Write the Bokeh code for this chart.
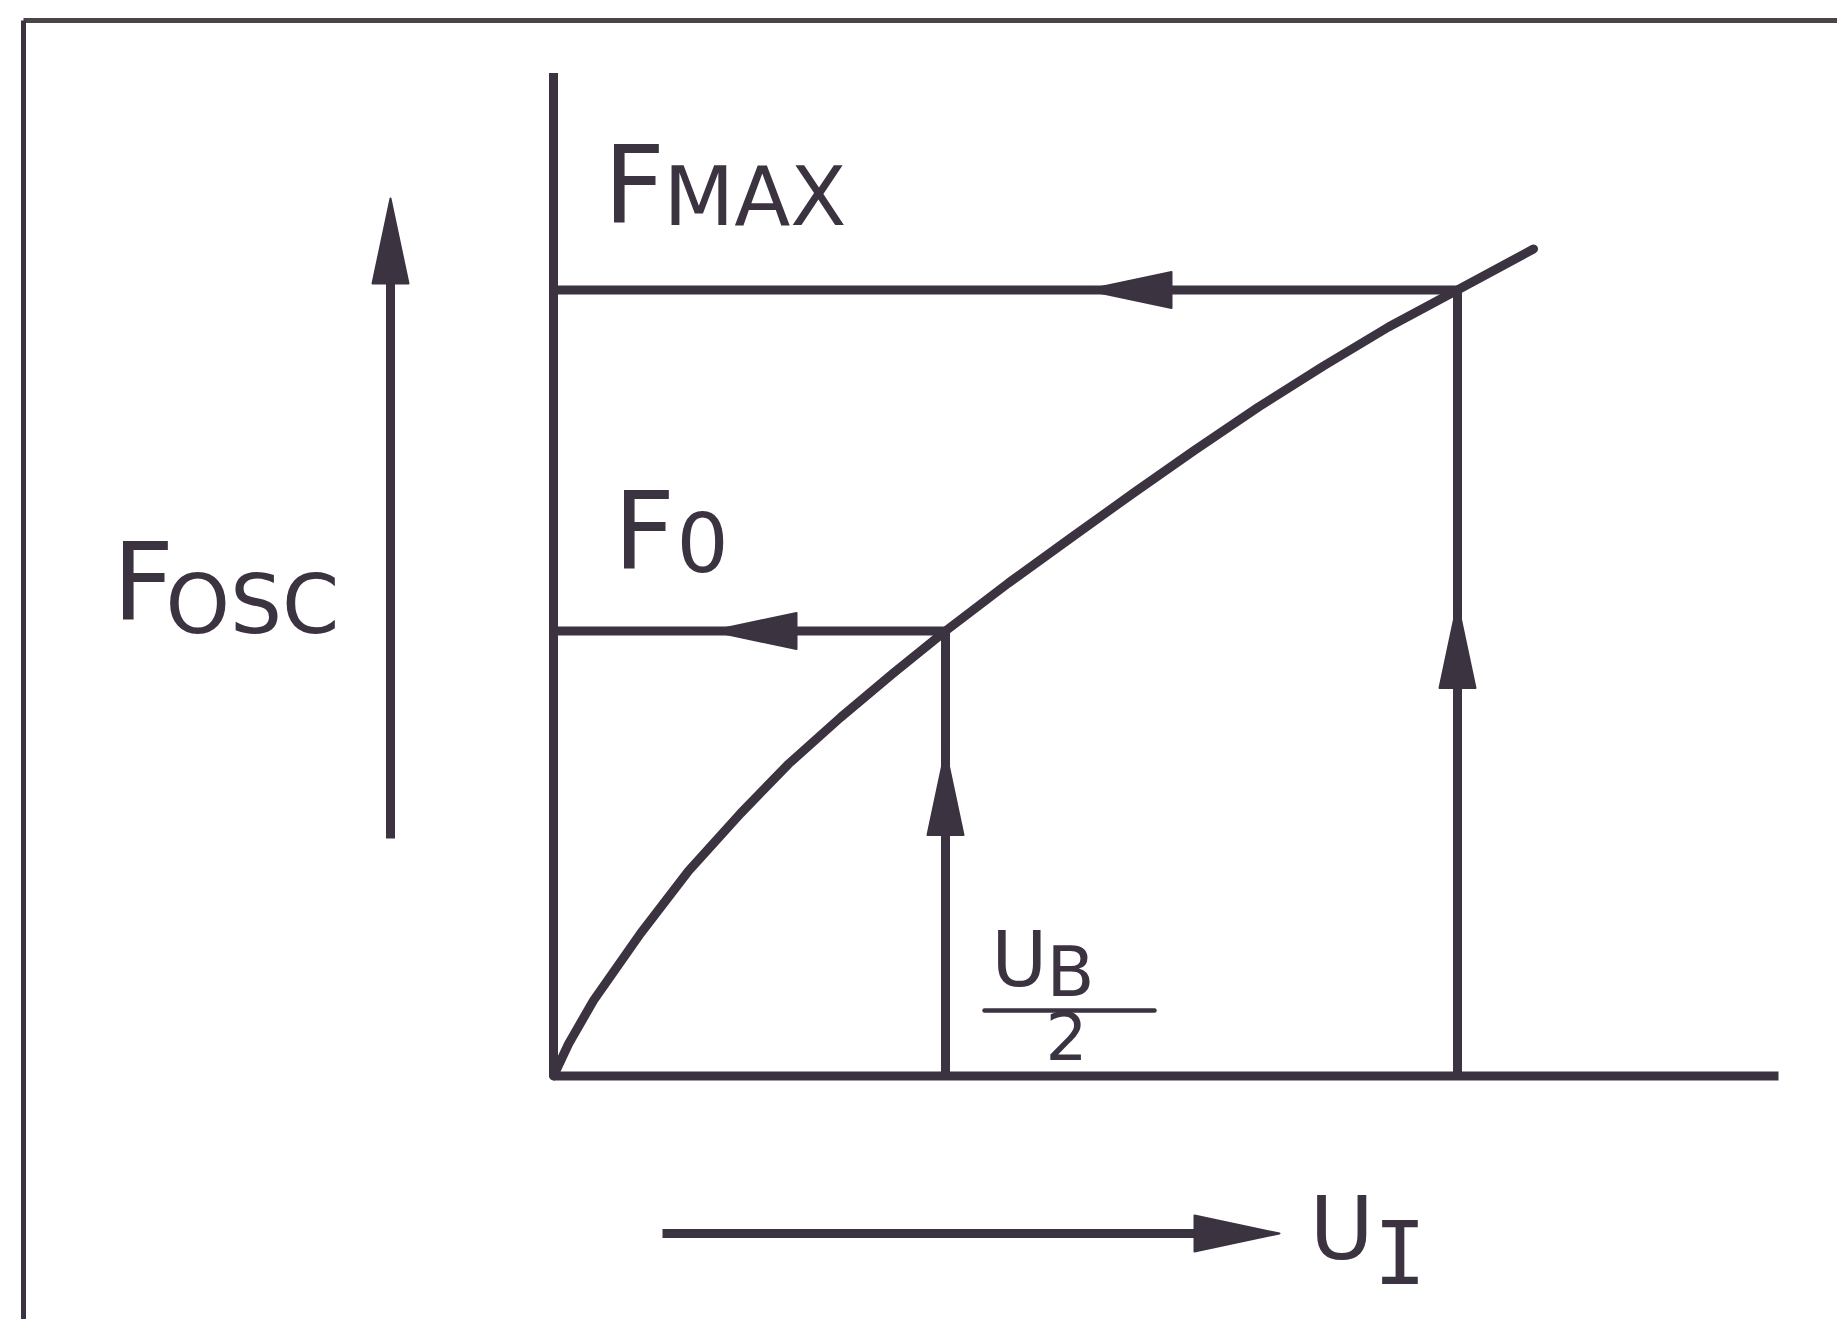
import numpy as np
from bokeh.plotting import figure
from bokeh.models import Range1d, ColumnDataSource
from bokeh.core.properties import value
from bokeh.embed import file_html
from bokeh.resources import INLINE

INK = "#3b3340"

# ---- data (diagram units: U along the horizontal, F along the vertical) ----
curve_u = [0.00, 0.15, 0.40, 0.87, 1.35, 1.87, 2.35, 2.87, 3.40, 3.92,
           4.55, 5.20, 5.80, 6.40, 7.05, 7.70, 8.35, 9.04, 9.80]
curve_f = [0.00, 0.32, 0.755, 1.425, 2.05, 2.625, 3.12, 3.585, 4.03, 4.45,
           4.93, 5.40, 5.83, 6.25, 6.69, 7.10, 7.49, 7.86, 8.27]

F_MAX = 7.86        # level of F_MAX
F_0 = 4.45          # level of F_0
U_HALF = 3.92       # U_B / 2
U_TOP = 9.04        # U at F_MAX
U_AXIS_END = 12.25
F_AXIS_END = 10.03

# arrow heads: tip positions and pointing directions
arrow_tip_u = [5.33, U_TOP, 1.58, U_HALF, -1.63, 7.26]
arrow_tip_f = [F_MAX, 4.73, F_0, 3.26, 8.775, -1.575]
arrow_dir = ["left", "up", "left", "up", "up", "right"]

# free-standing indicator arrows (shafts)
fosc_arrow_u = -1.63
fosc_arrow_f = [2.375, 8.3]
ui_arrow_f = -1.575
ui_arrow_u = [1.09, 6.8]

# labels
label_text = ["F", "MAX", "F", "0", "F", "OSC", "U", "B", "2", "U", "I"]
label_u = [0.50, 1.10, 0.60, 1.23, -4.41, -3.88, 4.38, 4.93, 4.92, 7.56, 8.20]
label_f = [8.91, 8.80, 5.45, 5.34, 4.94, 4.72, 1.17, 1.04, 0.41, -1.52, -1.77]
label_size = ["107px", "82px", "107px", "82px", "107px", "82px",
              "76px", "70px", "66px", "88px", "88px"]
label_font = ["DejaVu Sans"] * 10 + ["DejaVu Sans Mono"]

frac_u = [4.31, 6.01]
frac_f = 0.655

frame_left_u = -5.30
frame_top_f = 10.555

# ---- figure ----
p = figure(width=1837, height=1319,
           x_range=Range1d(-5.53, 12.84), y_range=Range1d(-2.435, 10.755),
           output_backend="svg", toolbar_location=None, min_border=0,
           x_axis_type=None, y_axis_type=None)
p.outline_line_color = None
p.background_fill_color = "white"
p.border_fill_color = "white"
p.grid.visible = False

# frame of the scanned figure
p.line([frame_left_u, 13.0], [frame_top_f, frame_top_f], line_color="#4a4448", line_width=5)
p.line([frame_left_u, frame_left_u], [frame_top_f, -3.0], line_color=INK, line_width=5)

LW = 9
# axes
p.line([0, 0], [0, F_AXIS_END], line_color=INK, line_width=LW)
p.line([0, U_AXIS_END], [0, 0], line_color=INK, line_width=LW)

# characteristic curve
p.line(curve_u, curve_f, line_color=INK, line_width=LW, line_cap="round", line_join="round")

# projection lines
p.line([0, U_TOP], [F_MAX, F_MAX], line_color=INK, line_width=LW)
p.line([U_TOP, U_TOP], [0, F_MAX], line_color=INK, line_width=LW)
p.line([0, U_HALF], [F_0, F_0], line_color=INK, line_width=LW)
p.line([U_HALF, U_HALF], [0, F_0], line_color=INK, line_width=LW)

# indicator arrows
p.line([fosc_arrow_u, fosc_arrow_u], fosc_arrow_f, line_color=INK, line_width=LW)
p.line(ui_arrow_u, [ui_arrow_f, ui_arrow_f], line_color=INK, line_width=LW)

# arrow heads
HL, HW = 0.85, 0.18
dirs = {"left": (-1, 0), "right": (1, 0), "up": (0, 1), "down": (0, -1)}
xs, ys = [], []
for tu, tf, d in zip(arrow_tip_u, arrow_tip_f, arrow_dir):
    dx, dy = dirs[d]
    nx, ny = -dy, dx
    bu, bf = tu - HL * dx, tf - HL * dy
    xs.append([tu, bu + HW * nx, bu - HW * nx])
    ys.append([tf, bf + HW * ny, bf - HW * ny])
p.patches(xs, ys, fill_color=INK, line_color=INK, line_width=2, line_join="round")

# fraction bar of U_B/2
p.line(frac_u, [frac_f, frac_f], line_color=INK, line_width=4.5, line_cap="round")

# labels
src = ColumnDataSource(dict(x=label_u, y=label_f, text=label_text,
                            size=label_size, font=label_font))
p.text(x="x", y="y", text="text", source=src, text_font="font",
       text_font_size="size", text_color=INK,
       text_align="left", text_baseline="alphabetic")

open("out.html", "w").write(file_html(p, INLINE))
